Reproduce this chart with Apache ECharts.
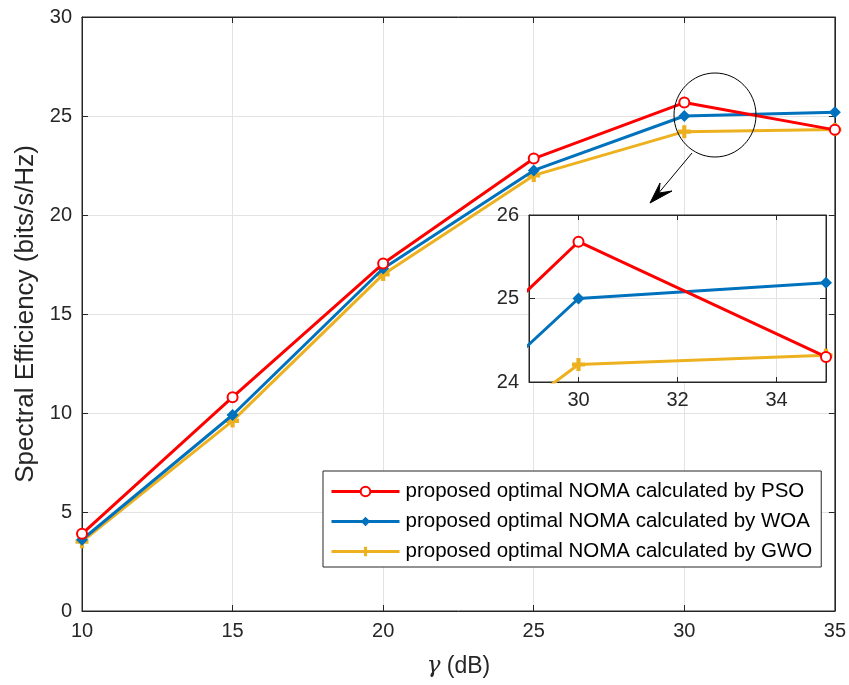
<!DOCTYPE html>
<html>
<head>
<meta charset="utf-8">
<script src="https://cdn.jsdelivr.net/npm/echarts@6/dist/echarts.min.js"></script>
<style>
  html, body { margin: 0; padding: 0; background: #fff; }
  #chart { width: 849px; height: 685px; }
</style>
</head>
<body>
<div id="chart"></div>
<script>
// gamma (dB)
const gammaDb = [10, 15, 20, 25, 30, 35];
const psoValues = [3.9, 10.8, 17.55, 22.85, 25.68, 24.3];
const woaValues = [3.6, 9.9, 17.3, 22.25, 25.0, 25.19];
const gwoValues = [3.5, 9.6, 17.0, 22.0, 24.21, 24.32];
const seriesNames = [
    'proposed optimal NOMA calculated by PSO',
    'proposed optimal NOMA calculated by WOA',
    'proposed optimal NOMA calculated by GWO'
];
const insetTicks = [30, 32, 34];

const axisColor = '#262626';
const gridColor = '#e3e3e3';
const font = 'Liberation Sans, Arial, Helvetica, sans-serif';
const plusPath = 'path://M3.4,0H6.6V3.4H10V6.6H6.6V10H3.4V6.6H0V3.4H3.4Z';

const styles = [
    { color: '#ff0000', symbol: 'emptyCircle', symbolSize: 10 },
    { color: '#0072bd', symbol: 'diamond', symbolSize: 12 },
    { color: '#edb120', symbol: plusPath, symbolSize: 13 }
];
const values = [psoValues, woaValues, gwoValues];

function pairs(arr) {
    return gammaDb.map((x, i) => [x, arr[i]]);
}

function makeSeries(idx, axisIdx) {
    const st = styles[idx];
    return {
        name: seriesNames[idx],
        type: 'line',
        xAxisIndex: axisIdx,
        yAxisIndex: axisIdx,
        data: pairs(values[idx]),
        symbol: st.symbol,
        symbolSize: st.symbolSize,
        showAllSymbol: true,
        clip: true,
        // inset lines must sit above the inset background
        z: (axisIdx === 0 ? 2 : 8) + (2 - idx) * 0.1,
        lineStyle: { color: st.color, width: 3 },
        itemStyle: { color: st.color, borderColor: st.color, borderWidth: idx === 0 ? 2.5 : 0 },
        emphasis: { disabled: true },
        animation: false
    };
}

function valueAxis(gridIndex, pos, min, max, interval, showLabel, extra) {
    return Object.assign({
        type: 'value',
        gridIndex: gridIndex,
        position: pos,
        min: min,
        max: max,
        interval: interval,
        axisLine: { show: true, onZero: false, lineStyle: { color: axisColor, width: 1 } },
        axisTick: { show: true, inside: true, length: 6, lineStyle: { color: axisColor } },
        axisLabel: { show: showLabel, color: axisColor, fontSize: 20, fontFamily: font, margin: 10 },
        splitLine: { show: showLabel, lineStyle: { color: gridColor, width: 1 } }
    }, extra || {});
}

const chart = echarts.init(document.getElementById('chart'));

const series = [];
for (let i = 0; i < 3; i++) series.push(makeSeries(i, 0));
for (let i = 0; i < 3; i++) series.push(makeSeries(i, 1));

chart.setOption({
    backgroundColor: '#fff',
    animation: false,
    textStyle: { fontFamily: font },
    grid: [
        { left: 82, top: 17, width: 754, height: 594, show: true, borderColor: axisColor, borderWidth: 1, backgroundColor: '#fff' },
        { left: 529, top: 215, width: 297, height: 167, show: true, borderColor: axisColor, borderWidth: 1, backgroundColor: '#fff', z: 5 }
    ],
    xAxis: [
        valueAxis(0, 'bottom', 10, 35, 5, true, {
            name: '{i|γ} (dB)',
            nameLocation: 'middle',
            nameGap: 44,
            nameTextStyle: {
                color: axisColor, fontSize: 23, fontFamily: font,
                rich: { i: { fontStyle: 'italic', fontSize: 23, fontFamily: 'DejaVu Serif, serif', color: axisColor } }
            }
        }),
        valueAxis(1, 'bottom', 29, 35, 1, true, {
            axisTick: { show: true, inside: true, length: 5, customValues: insetTicks, lineStyle: { color: axisColor } },
            axisLabel: { show: true, customValues: insetTicks, color: axisColor, fontSize: 20, fontFamily: font, margin: 8 },
            z: 6
        }),
        valueAxis(0, 'top', 10, 35, 5, false),
        valueAxis(1, 'top', 29, 35, 1, false, {
            axisTick: { show: true, inside: true, length: 5, customValues: insetTicks, lineStyle: { color: axisColor } },
            z: 6
        })
    ],
    yAxis: [
        valueAxis(0, 'left', 0, 30, 5, true, {
            name: 'Spectral Efficiency (bits/s/Hz)',
            nameLocation: 'middle',
            nameGap: 43,
            nameTextStyle: { color: axisColor, fontSize: 26, fontFamily: font }
        }),
        valueAxis(1, 'left', 24, 26, 1, true, { z: 6 }),
        valueAxis(0, 'right', 0, 30, 5, false),
        valueAxis(1, 'right', 24, 26, 1, false, { z: 6 })
    ],
    legend: {
        orient: 'vertical',
        left: 323,
        top: 471,
        data: seriesNames,
        backgroundColor: '#fff',
        borderColor: axisColor,
        borderWidth: 1,
        padding: [10, 9, 5, 7],
        itemWidth: 68,
        itemHeight: 12,
        itemGap: 9,
        selectedMode: false,
        lineStyle: { width: 3 },
        textStyle: { color: '#000', fontSize: 20.5, fontFamily: font, padding: [0, 0, 0, 1] },
        z: 10
    },
    series: series,
    graphic: [
        {
            type: 'ellipse',
            shape: { cx: 715, cy: 115, rx: 41, ry: 42 },
            style: { fill: 'none', stroke: '#000', lineWidth: 1 },
            z: 20
        },
        {
            type: 'line',
            shape: { x1: 692, y1: 153, x2: 657, y2: 195 },
            style: { stroke: '#000', lineWidth: 1 },
            z: 20
        },
        {
            type: 'polygon',
            shape: { points: [[650, 203], [660, 183], [659, 193], [672, 191]] },
            style: { fill: '#000', stroke: '#000', lineWidth: 1 },
            z: 20
        }
    ]
});
</script>
</body>
</html>
